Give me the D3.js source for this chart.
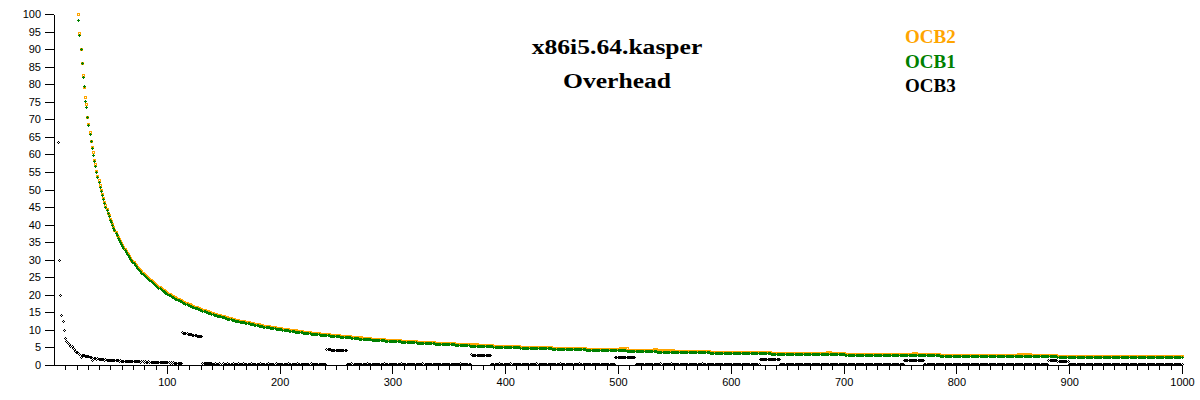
<!DOCTYPE html>
<html>
<head>
<meta charset="utf-8">
<script src="https://cdn.jsdelivr.net/npm/d3@7"></script>
<style>
  body { margin: 0; background: #fff; }
  .axis text { font-family: "Liberation Sans", Arial, sans-serif; font-size: 11px; fill: #000; }
  .axis path, .axis line { stroke: #000; shape-rendering: crispEdges; }
</style>
</head>
<body>
<svg id="chart" width="1200" height="400"></svg>
<script>
// x86i5.64.kasper overhead, one point per message length

var titleLines = ["x86i5.64.kasper", "Overhead"];
var seriesNames = ["OCB2", "OCB1", "OCB3"];
var seriesColors = ["#ffa500", "#008000", "#000000"];
var yTicks = d3.range(0, 101, 5);
var xTicks = d3.range(100, 1001, 100);
var xMinor = d3.range(10, 1001, 10);

// lengths: OCB1/OCB2 visible from 22, OCB3 from 4, all series 101..1000
var lenHead12 = d3.range(22, 101);
var lenHead3 = d3.range(4, 101);
var lenTail = d3.range(101, 1001);

var ocb1Head = [98.2,94.0,89.8,85.8,82.0,79.4,75.1,73.3,70.5,68.1,
  65.7,63.6,61.7,59.8,58.1,56.5,54.9,53.5,52.1,50.7,
  49.5,48.3,47.2,46.1,45.0,44.0,43.1,42.2,41.3,40.5,
  39.7,38.9,38.2,37.5,36.8,36.1,35.5,34.8,34.3,33.7,
  33.1,32.6,32.1,31.6,31.1,30.6,30.1,29.7,29.2,28.8,
  28.4,28.0,27.6,27.3,26.9,26.5,26.2,25.8,25.5,25.2,
  24.9,24.6,24.3,24.0,23.7,23.4,23.2,22.9,22.6,22.4,
  22.1,21.9,21.7,21.4,21.2,21.0,20.8,20.5,20.3];

var ocb1Tail = [
  20.1,19.9,19.7,19.5,19.3,19.2,19.0,18.8,18.6,18.5,
  18.3,18.1,18.0,17.8,17.6,17.5,17.3,17.2,17.0,16.9,
  16.8,16.6,16.5,16.3,16.2,16.1,16.0,15.8,15.7,15.6,
  15.5,15.3,15.2,15.1,15.0,14.9,14.8,14.7,14.6,14.5,
  14.4,14.2,14.1,14.1,13.9,13.9,13.8,13.7,13.6,13.5,
  13.4,13.3,13.2,13.1,13.0,13.0,12.9,12.8,12.7,12.6,
  12.5,12.5,12.4,12.3,12.2,12.2,12.1,12.0,12.0,11.9,
  11.8,11.7,11.7,11.6,11.5,11.5,11.4,11.3,11.3,11.2,
  11.2,11.1,11.0,11.0,10.9,10.8,10.8,10.7,10.7,10.6,
  10.6,10.5,10.5,10.4,10.3,10.3,10.2,10.2,10.1,10.1,
  10.0,10.0,9.9,9.9,9.8,9.8,9.7,9.7,9.6,9.6,
  9.6,9.5,9.5,9.4,9.4,9.3,9.3,9.2,9.2,9.2,
  9.1,9.1,9.0,9.0,9.0,8.9,8.9,8.8,8.8,8.8,
  8.7,8.7,8.6,8.6,8.6,8.5,8.5,8.5,8.4,8.4,
  8.4,8.3,8.3,8.3,8.2,8.2,8.2,8.1,8.1,8.1,
  8.0,8.0,8.0,7.9,7.9,7.9,7.8,7.8,7.8,7.7,
  7.7,7.7,7.7,7.6,7.6,7.6,7.5,7.5,7.5,7.5,
  7.4,7.4,7.4,7.3,7.3,7.3,7.3,7.2,7.2,7.2,
  7.2,7.1,7.1,7.1,7.1,7.0,7.0,7.0,7.0,6.9,
  6.9,6.9,6.9,6.8,6.8,6.8,6.8,6.7,6.7,6.7,
  // 301
  6.7,6.7,6.6,6.6,6.6,6.6,6.6,6.5,6.5,6.5,
  6.5,6.4,6.4,6.4,6.4,6.4,6.3,6.3,6.3,6.3,
  6.3,6.2,6.2,6.2,6.2,6.2,6.1,6.1,6.1,6.1,
  6.1,6.1,6.0,6.0,6.0,6.0,6.0,5.9,5.9,5.9,
  5.9,5.9,5.9,5.8,5.8,5.8,5.8,5.8,5.8,5.7,
  5.7,5.7,5.7,5.7,5.7,5.6,5.6,5.6,5.6,5.6,
  5.6,5.5,5.5,5.5,5.5,5.5,5.5,5.5,5.4,5.4,
  5.4,5.4,5.4,5.4,5.4,5.3,5.3,5.3,5.3,5.3,
  5.3,5.3,5.2,5.2,5.2,5.2,5.2,5.2,5.2,5.1,
  5.1,5.1,5.1,5.1,5.1,5.1,5.1,5.0,5.0,5.0,
  // 401
  5.0,5.0,5.0,5.0,5.0,4.9,4.9,4.9,4.9,4.9,
  4.9,4.9,4.9,4.8,4.8,4.8,4.8,4.8,4.8,4.8,
  4.8,4.7,4.7,4.7,4.7,4.7,4.7,4.7,4.7,4.7,
  4.7,4.6,4.6,4.6,4.6,4.6,4.6,4.6,4.6,4.6,
  4.6,4.5,4.5,4.5,4.5,4.5,4.5,4.5,4.5,4.5,
  4.5,4.4,4.4,4.4,4.4,4.4,4.4,4.4,4.4,4.4,
  4.4,4.3,4.3,4.3,4.3,4.3,4.3,4.3,4.3,4.3,
  4.3,4.2,4.2,4.2,4.2,4.2,4.2,4.2,4.2,4.2,
  4.2,4.2,4.2,4.1,4.1,4.1,4.1,4.1,4.1,4.1,
  4.1,4.1,4.1,4.1,4.1,4.0,4.0,4.0,4.0,4.0,
  // 501
  4.0,4.0,4.0,4.0,4.0,4.0,4.0,3.9,3.9,3.9,
  3.9,3.9,3.9,3.9,3.9,3.9,3.9,3.9,3.9,3.9,
  3.9,3.8,3.8,3.8,3.8,3.8,3.8,3.8,3.8,3.8,
  3.8,3.8,3.8,3.8,3.7,3.7,3.7,3.7,3.7,3.7,
  3.7,3.7,3.7,3.7,3.7,3.7,3.7,3.7,3.7,3.6,
  3.6,3.6,3.6,3.6,3.6,3.6,3.6,3.6,3.6,3.6,
  3.6,3.6,3.6,3.6,3.5,3.5,3.5,3.5,3.5,3.5,
  3.5,3.5,3.5,3.5,3.5,3.5,3.5,3.5,3.5,3.5,
  3.5,3.4,3.4,3.4,3.4,3.4,3.4,3.4,3.4,3.4,
  3.4,3.4,3.4,3.4,3.4,3.4,3.4,3.3,3.3,3.3,
  // 601
  3.3,3.3,3.3,3.3,3.3,3.3,3.3,3.3,3.3,3.3,
  3.3,3.3,3.3,3.3,3.3,3.3,3.3,3.2,3.2,3.2,
  3.2,3.2,3.2,3.2,3.2,3.2,3.2,3.2,3.2,3.2,
  3.2,3.2,3.2,3.2,3.2,3.1,3.1,3.1,3.1,3.1,
  3.1,3.1,3.1,3.1,3.1,3.1,3.1,3.1,3.1,3.1,
  3.1,3.1,3.1,3.1,3.1,3.1,3.1,3.0,3.0,3.0,
  3.0,3.0,3.0,3.0,3.0,3.0,3.0,3.0,3.0,3.0,
  3.0,3.0,3.0,3.0,3.0,3.0,3.0,3.0,3.0,2.9,
  2.9,2.9,2.9,2.9,2.9,2.9,2.9,2.9,2.9,2.9,
  2.9,2.9,2.9,2.9,2.9,2.9,2.9,2.9,2.9,2.9,
  // 701
  2.9,2.8,2.8,2.8,2.8,2.8,2.8,2.8,2.8,2.8,
  2.8,2.8,2.8,2.8,2.8,2.8,2.8,2.8,2.8,2.8,
  2.8,2.8,2.8,2.8,2.8,2.8,2.8,2.7,2.7,2.7,
  2.7,2.7,2.7,2.7,2.7,2.7,2.7,2.7,2.7,2.7,
  2.7,2.7,2.7,2.7,2.7,2.7,2.7,2.7,2.7,2.7,
  2.7,2.7,2.7,2.7,2.7,2.6,2.6,2.6,2.6,2.6,
  2.6,2.6,2.6,2.6,2.6,2.6,2.6,2.6,2.6,2.6,
  2.6,2.6,2.6,2.6,2.6,2.6,2.6,2.6,2.6,2.6,
  2.6,2.6,2.6,2.6,2.6,2.5,2.5,2.5,2.5,2.5,
  2.5,2.5,2.5,2.5,2.5,2.5,2.5,2.5,2.5,2.5,
  // 801
  2.5,2.5,2.5,2.5,2.5,2.5,2.5,2.5,2.5,2.5,
  2.5,2.5,2.5,2.5,2.5,2.5,2.5,2.4,2.4,2.4,
  2.4,2.4,2.4,2.4,2.4,2.4,2.4,2.4,2.4,2.4,
  2.4,2.4,2.4,2.4,2.4,2.4,2.4,2.4,2.4,2.4,
  2.4,2.4,2.4,2.4,2.4,2.4,2.4,2.4,2.4,2.4,
  2.4,2.3,2.3,2.3,2.3,2.3,2.3,2.3,2.3,2.3,
  2.3,2.3,2.3,2.3,2.3,2.3,2.3,2.3,2.3,2.3,
  2.3,2.3,2.3,2.3,2.3,2.3,2.3,2.3,2.3,2.3,
  2.3,2.3,2.3,2.3,2.3,2.3,2.3,2.3,2.3,2.2,
  2.2,2.2,2.2,2.2,2.2,2.2,2.2,2.2,2.2,2.2,
  // 901
  2.2,2.2,2.2,2.2,2.2,2.2,2.2,2.2,2.2,2.2,
  2.2,2.2,2.2,2.2,2.2,2.2,2.2,2.2,2.2,2.2,
  2.2,2.2,2.2,2.2,2.2,2.2,2.2,2.2,2.2,2.2,
  2.2,2.1,2.1,2.1,2.1,2.1,2.1,2.1,2.1,2.1,
  2.1,2.1,2.1,2.1,2.1,2.1,2.1,2.1,2.1,2.1,
  2.1,2.1,2.1,2.1,2.1,2.1,2.1,2.1,2.1,2.1,
  2.1,2.1,2.1,2.1,2.1,2.1,2.1,2.1,2.1,2.1,
  2.1,2.1,2.1,2.1,2.1,2.0,2.0,2.0,2.0,2.0,
  2.0,2.0,2.0,2.0,2.0,2.0,2.0,2.0,2.0,2.0,
  2.0,2.0,2.0,2.0,2.0,2.0,2.0,2.0,2.0,2.0];

var ocb2Head = [99.8,94.4,90.0,86.0,82.4,79.1,76.1,74.2,70.6,68.4,
  66.2,63.8,62.0,60.4,58.3,57.0,55.1,53.7,52.5,51.0,
  49.6,48.7,47.4,46.3,45.4,44.2,43.3,42.5,41.5,40.9,
  39.9,39.2,38.4,37.8,37.0,36.4,35.7,35.1,34.5,34.0,
  33.4,32.8,32.4,31.8,31.4,30.9,30.4,29.9,29.5,29.1,
  28.6,28.3,27.9,27.5,27.2,26.8,26.5,26.1,25.8,25.5,
  25.2,24.9,24.6,24.3,24.0,23.7,23.5,23.2,22.9,22.7,
  22.4,22.2,22.0,21.7,21.5,21.3,21.1,20.8,20.6];

var ocb2Tail = [
  20.4,20.2,20.0,19.8,19.6,19.5,19.3,19.1,18.9,18.8,
  18.6,18.4,18.3,18.1,17.9,17.8,17.6,17.5,17.3,17.2,
  17.1,16.9,16.8,16.6,16.5,16.4,16.3,16.1,16.0,15.9,
  15.8,15.6,15.5,15.4,15.3,15.2,15.1,15.0,14.9,14.8,
  14.7,14.5,14.4,14.4,14.2,14.2,14.1,14.0,13.9,13.8,
  13.7,13.6,13.5,13.4,13.3,13.3,13.2,13.1,13.0,12.9,
  12.8,12.8,12.7,12.6,12.5,12.5,12.4,12.3,12.3,12.2,
  12.1,12.0,12.0,11.9,11.8,11.8,11.7,11.6,11.6,11.5,
  11.5,11.4,11.3,11.3,11.2,11.1,11.1,11.0,11.0,10.9,
  10.9,10.8,10.8,10.7,10.6,10.6,10.5,10.5,10.4,10.4,
  10.3,10.3,10.2,10.2,10.1,10.1,10.0,10.0,9.9,9.9,
  9.9,9.8,9.8,9.7,9.7,9.6,9.6,9.5,9.5,9.5,
  9.4,9.4,9.3,9.3,9.3,9.2,9.2,9.1,9.1,9.1,
  9.0,9.0,8.9,8.9,8.9,8.8,8.8,8.8,8.7,8.7,
  8.7,8.6,8.6,8.6,8.5,8.5,8.5,8.4,8.4,8.4,
  8.3,8.3,8.3,8.2,8.2,8.2,8.1,8.1,8.1,8.0,
  8.0,8.0,8.0,7.9,7.9,7.9,7.8,7.8,7.8,7.8,
  7.7,7.7,7.7,7.6,7.6,7.6,7.6,7.5,7.5,7.5,
  7.5,7.4,7.4,7.4,7.4,7.3,7.3,7.3,7.3,7.2,
  7.2,7.2,7.2,7.1,7.1,7.1,7.1,7.0,7.0,7.0,
  // 301
  7.0,7.0,6.9,6.9,6.9,6.9,6.9,6.8,6.8,6.8,
  6.8,6.7,6.7,6.7,6.7,6.7,6.6,6.6,6.6,6.6,
  6.6,6.5,6.5,6.5,6.5,6.5,6.4,6.4,6.4,6.4,
  6.4,6.4,6.3,6.3,6.3,6.3,6.3,6.2,6.2,6.2,
  6.2,6.2,6.2,6.1,6.1,6.1,6.1,6.1,6.1,6.0,
  6.0,6.0,6.0,6.0,6.0,5.9,5.9,5.9,5.9,5.9,
  5.9,5.8,5.8,5.8,5.8,5.8,5.8,5.8,5.7,5.7,
  5.7,5.7,5.7,5.7,5.7,5.6,5.6,5.6,5.6,5.6,
  5.6,5.6,5.5,5.5,5.5,5.5,5.5,5.5,5.5,5.4,
  5.4,5.4,5.4,5.4,5.4,5.4,5.4,5.3,5.3,5.3,
  // 401
  5.3,5.3,5.3,5.3,5.3,5.2,5.2,5.2,5.2,5.2,
  5.2,5.2,5.2,5.1,5.1,5.1,5.1,5.1,5.1,5.1,
  5.1,5.0,5.0,5.0,5.0,5.0,5.0,5.0,5.0,5.0,
  5.0,4.9,4.9,4.9,4.9,4.9,4.9,4.9,4.9,4.9,
  4.9,4.8,4.8,4.8,4.8,4.8,4.8,4.8,4.8,4.8,
  4.8,4.7,4.7,4.7,4.7,4.7,4.7,4.7,4.7,4.7,
  4.7,4.6,4.6,4.6,4.6,4.6,4.6,4.6,4.6,4.6,
  4.6,4.5,4.5,4.5,4.5,4.5,4.5,4.5,4.5,4.5,
  4.5,4.5,4.5,4.4,4.4,4.4,4.4,4.4,4.4,4.4,
  4.4,4.4,4.4,4.4,4.4,4.3,4.3,4.3,4.3,4.3,
  // 501
  4.3,4.6,4.6,4.6,4.6,4.6,4.6,4.6,4.2,4.2,
  4.2,4.2,4.2,4.2,4.2,4.2,4.2,4.2,4.2,4.2,
  4.2,4.1,4.1,4.1,4.1,4.1,4.1,4.1,4.1,4.1,
  4.1,4.4,4.4,4.4,4.0,4.0,4.0,4.0,4.0,4.0,
  4.0,4.0,4.0,4.0,4.0,4.0,4.0,4.0,4.0,3.9,
  3.9,3.9,3.9,3.9,3.9,3.9,3.9,3.9,3.9,3.9,
  3.9,3.9,3.9,3.9,3.8,3.8,3.8,3.8,3.8,3.8,
  3.8,3.8,3.8,3.8,3.8,3.8,3.8,3.8,3.8,3.8,
  3.8,3.7,3.7,3.7,3.7,3.7,3.7,3.7,3.7,3.7,
  3.7,3.7,3.7,3.7,3.7,3.7,3.7,3.6,3.6,3.6,
  // 601
  3.6,3.6,3.6,3.6,3.6,3.6,3.6,3.6,3.6,3.6,
  3.6,3.6,3.6,3.6,3.6,3.6,3.6,3.5,3.5,3.5,
  3.5,3.5,3.5,3.5,3.5,3.5,3.5,3.5,3.5,3.5,
  3.5,3.5,3.5,3.5,3.5,3.4,3.4,3.4,3.4,3.4,
  3.4,3.4,3.4,3.4,3.4,3.4,3.4,3.4,3.4,3.4,
  3.4,3.4,3.4,3.4,3.4,3.4,3.4,3.3,3.3,3.3,
  3.3,3.3,3.3,3.3,3.3,3.3,3.3,3.3,3.3,3.3,
  3.3,3.3,3.3,3.3,3.3,3.3,3.3,3.3,3.3,3.2,
  3.2,3.2,3.2,3.2,3.2,3.5,3.5,3.5,3.2,3.2,
  3.2,3.2,3.2,3.2,3.2,3.2,3.2,3.2,3.2,3.2,
  // 701
  3.2,3.1,3.1,3.1,3.1,3.1,3.1,3.1,3.1,3.1,
  3.1,3.1,3.1,3.1,3.1,3.1,3.1,3.1,3.1,3.1,
  3.1,3.1,3.1,3.1,3.1,3.1,3.1,3.0,3.0,3.0,
  3.0,3.0,3.0,3.0,3.0,3.0,3.0,3.0,3.0,3.0,
  3.0,3.0,3.0,3.0,3.0,3.0,3.0,3.0,3.0,3.0,
  3.0,3.0,3.0,3.0,3.0,2.9,2.9,2.9,2.9,2.9,
  2.9,3.2,3.2,3.2,3.2,2.9,2.9,2.9,2.9,2.9,
  2.9,2.9,2.9,2.9,2.9,2.9,2.9,2.9,2.9,2.9,
  2.9,2.9,2.9,2.9,2.9,2.8,2.8,2.8,2.8,2.8,
  2.8,2.8,2.8,2.8,2.8,2.8,2.8,2.8,2.8,2.8,
  // 801
  2.8,2.8,2.8,2.8,2.8,2.8,2.8,2.8,2.8,2.8,
  2.8,2.8,2.8,2.8,2.8,2.8,2.8,2.7,2.7,2.7,
  2.7,2.7,2.7,2.7,2.7,2.7,2.7,2.7,2.7,2.7,
  2.7,2.7,2.7,2.7,2.7,2.7,2.7,2.7,2.7,2.7,
  2.7,2.7,2.7,2.7,2.7,2.7,2.7,2.7,2.7,2.7,
  2.7,2.6,2.6,2.6,2.9,2.9,2.9,2.9,2.9,2.9,
  2.9,2.9,2.9,2.9,2.9,2.9,2.6,2.6,2.6,2.6,
  2.6,2.6,2.6,2.6,2.6,2.6,2.6,2.6,2.6,2.6,
  2.6,2.6,2.6,2.6,2.6,2.6,2.6,2.6,2.6,2.5,
  2.5,2.5,2.5,2.5,2.5,2.5,2.5,2.5,2.5,2.5,
  // 901
  2.5,2.5,2.5,2.5,2.5,2.5,2.5,2.5,2.5,2.5,
  2.5,2.5,2.5,2.5,2.5,2.5,2.5,2.5,2.5,2.5,
  2.5,2.5,2.5,2.5,2.5,2.5,2.5,2.5,2.5,2.5,
  2.5,2.4,2.4,2.4,2.4,2.4,2.4,2.4,2.4,2.4,
  2.4,2.4,2.4,2.4,2.4,2.4,2.4,2.4,2.4,2.4,
  2.4,2.4,2.4,2.4,2.4,2.4,2.4,2.4,2.4,2.4,
  2.4,2.4,2.4,2.4,2.4,2.4,2.4,2.4,2.4,2.4,
  2.4,2.4,2.4,2.4,2.4,2.3,2.3,2.3,2.3,2.3,
  2.3,2.3,2.3,2.3,2.3,2.3,2.3,2.3,2.3,2.3,
  2.3,2.3,2.3,2.3,2.3,2.3,2.3,2.3,2.3,2.3];

var ocb3Head = [63.3,29.8,19.9,14.2,12.4,9.7,7.5,6.6,6.3,6.0,
  5.7,5.4,5.2,4.8,4.3,3.9,3.6,3.6,3.3,3.1,
  2.2,2.8,2.7,2.6,2.5,2.4,2.3,2.3,2.2,2.2,
  1.4,1.5,1.8,1.8,1.7,1.8,1.7,1.6,1.6,1.5,
  1.5,1.4,1.5,1.4,1.4,1.4,1.3,1.4,1.3,1.2,
  1.3,1.2,1.2,1.2,1.1,1.2,1.1,1.1,1.1,1.0,
  1.1,1.0,1.1,1.0,1.0,0.9,1.0,1.0,0.9,1.0,
  0.9,0.9,0.9,0.8,0.9,0.9,0.8,0.9,0.8,0.8,
  0.9,0.8,0.8,0.8,0.7,0.8,0.8,0.7,0.8,0.7,
  0.7,0.7,0.6,0.7,0.6,0.6,0.6];

var ocb3Tail = [
  0.6,0.6,0.5,0.6,0.5,0.6,0.5,0.5,0.5,0.5,
  0.5,0.5,0.5,9.2,9.1,9.0,8.9,8.9,8.8,8.7,
  8.6,8.6,8.5,8.4,8.4,8.3,8.2,8.2,8.1,8.0,
  8.0,0.4,0.4,0.3,0.4,0.3,0.3,0.4,0.3,0.3,
  0.2,0.2,0.4,0.2,0.2,0.2,0.4,0.2,0.2,0.5,
  0.2,0.2,0.2,0.4,0.2,0.2,0.2,0.2,0.4,0.2,
  0.2,0.2,0.2,0.4,0.2,0.2,0.2,0.5,0.2,0.2,
  0.2,0.2,0.2,0.2,0.4,0.2,0.2,0.2,0.2,0.2,
  0.2,0.2,0.4,0.2,0.2,0.2,0.2,0.2,0.2,0.4,
  0.2,0.2,0.2,0.2,0.2,0.2,0.4,0.2,0.2,0.2,
  0.2,0.2,0.2,0.2,0.2,0.2,0.2,0.4,0.2,0.2,
  0.2,0.2,0.2,0.2,0.2,0.4,0.2,0.2,0.2,0.2,
  0.2,0.2,0.2,0.2,0.2,0.2,0.2,0.4,0.2,0.2,
  0.2,0.2,0.2,0.2,0.2,0.2,0.2,0.2,0.2,0.2,
  0.2,4.3,4.3,4.3,4.3,4.2,4.2,4.2,4.2,4.2,
  4.2,4.1,4.1,4.1,4.1,4.1,4.1,4.1,4.0,0.2,
  0.2,0.2,0.2,0.4,0.2,0.2,0.2,0.2,0.2,0.2,
  0.2,0.2,0.2,0.2,0.2,0.2,0.2,0.4,0.2,0.2,
  0.2,0.2,0.2,0.2,0.2,0.2,0.2,0.2,0.2,0.2,
  0.2,0.2,0.4,0.2,0.2,0.2,0.2,0.2,0.2,0.2,
  // 301
  0.2,0.2,0.2,0.2,0.2,0.2,0.2,0.5,0.2,0.2,
  0.2,0.2,0.2,0.2,0.2,0.2,0.2,0.2,0.2,0.2,
  0.2,0.2,0.2,0.2,0.2,0.2,0.4,0.2,0.2,0.2,
  0.2,0.2,0.2,0.2,0.2,0.2,0.2,0.2,0.2,0.2,
  0.2,0.2,0.2,0.2,0.2,0.2,0.2,0.2,0.2,0.2,
  0.2,0.2,0.2,0.2,0.2,0.2,0.2,0.2,0.2,0.4,
  0.2,0.2,0.2,0.2,0.2,0.2,0.2,0.2,0.2,2.9,
  2.8,2.8,2.8,2.8,2.8,2.8,2.8,2.7,2.7,2.7,
  2.7,2.7,2.7,2.7,2.7,2.7,2.7,0.2,0.2,0.2,
  0.2,0.2,0.2,0.2,0.4,0.2,0.2,0.2,0.2,0.2,
  // 401
  0.2,0.2,0.2,0.2,0.4,0.2,0.2,0.2,0.2,0.2,
  0.2,0.2,0.2,0.2,0.2,0.2,0.2,0.2,0.2,0.2,
  0.2,0.2,0.2,0.2,0.2,0.2,0.2,0.5,0.2,0.2,
  0.2,0.2,0.2,0.2,0.2,0.2,0.2,0.2,0.2,0.2,
  0.2,0.2,0.2,0.2,0.2,0.2,0.2,0.2,0.4,0.2,
  0.2,0.2,0.2,0.2,0.2,0.2,0.2,0.2,0.2,0.2,
  0.2,0.2,0.2,0.2,0.2,0.4,0.2,0.2,0.2,0.2,
  0.2,0.2,0.2,0.2,0.2,0.2,0.2,0.2,0.2,0.2,
  0.2,0.2,0.2,0.2,0.2,0.2,0.2,0.2,0.2,0.2,
  0.2,0.2,0.2,0.2,0.2,0.2,0.2,2.1,2.1,2.1,
  // 501
  2.1,2.1,2.0,2.0,2.0,2.0,2.0,2.0,2.0,2.0,
  2.0,2.0,2.0,2.0,2.0,0.2,0.2,0.2,0.2,0.2,
  0.2,0.2,0.2,0.2,0.2,0.2,0.2,0.2,0.2,0.2,
  0.2,0.2,0.2,0.2,0.2,0.2,0.2,0.4,0.2,0.2,
  0.2,0.2,0.2,0.2,0.2,0.2,0.4,0.2,0.2,0.2,
  0.2,0.2,0.2,0.2,0.2,0.2,0.2,0.2,0.2,0.2,
  0.2,0.2,0.2,0.2,0.2,0.2,0.2,0.2,0.2,0.2,
  0.2,0.2,0.2,0.2,0.4,0.2,0.2,0.2,0.2,0.2,
  0.2,0.2,0.2,0.2,0.2,0.2,0.2,0.2,0.2,0.2,
  0.2,0.2,0.2,0.2,0.2,0.2,0.2,0.2,0.2,0.2,
  // 601
  0.2,0.2,0.2,0.2,0.2,0.2,0.2,0.2,0.2,0.2,
  0.2,0.2,0.2,0.2,0.2,0.2,0.2,0.2,0.2,0.2,
  0.2,0.2,0.2,0.2,0.2,1.7,1.6,1.6,1.6,1.6,
  1.6,1.6,1.6,1.6,1.6,1.6,1.5,1.5,1.5,1.5,
  1.5,1.5,1.5,0.2,0.2,0.2,0.2,0.2,0.2,0.2,
  0.2,0.2,0.2,0.2,0.2,0.2,0.2,0.2,0.2,0.2,
  0.2,0.2,0.2,0.2,0.2,0.2,0.2,0.2,0.2,0.2,
  0.2,0.2,0.2,0.2,0.2,0.2,0.2,0.2,0.2,0.2,
  0.2,0.2,0.2,0.2,0.2,0.2,0.2,0.2,0.2,0.2,
  0.2,0.2,0.2,0.2,0.2,0.2,0.2,0.2,0.2,0.2,
  // 701
  0.2,0.2,0.2,0.2,0.2,0.2,0.2,0.2,0.2,0.2,
  0.2,0.2,0.2,0.2,0.2,0.2,0.2,0.2,0.2,0.2,
  0.2,0.2,0.2,0.2,0.2,0.2,0.2,0.2,0.2,0.2,
  0.2,0.2,0.2,0.2,0.2,0.2,0.2,0.2,0.2,0.2,
  0.2,0.2,0.2,0.2,0.2,0.2,0.2,0.2,0.2,0.2,
  0.2,0.2,0.2,1.3,1.3,1.3,1.3,1.3,1.3,1.3,
  1.3,1.3,1.3,1.3,1.3,1.3,1.3,1.2,1.2,1.2,
  1.2,0.2,0.2,0.2,0.2,0.2,0.2,0.2,0.2,0.2,
  0.2,0.2,0.2,0.2,0.2,0.2,0.2,0.2,0.2,0.2,
  0.2,0.2,0.2,0.2,0.2,0.2,0.2,0.2,0.2,0.2,
  // 801
  0.2,0.2,0.2,0.2,0.2,0.2,0.2,0.2,0.2,0.2,
  0.2,0.2,0.2,0.2,0.2,0.2,0.2,0.2,0.2,0.2,
  0.2,0.2,0.2,0.2,0.2,0.2,0.2,0.2,0.2,0.2,
  0.2,0.2,0.2,0.2,0.2,0.2,0.2,0.2,0.2,0.2,
  0.2,0.2,0.2,0.2,0.2,0.2,0.2,0.2,0.2,0.2,
  0.2,0.2,0.2,0.2,0.2,0.2,0.2,0.2,0.2,0.2,
  0.2,0.2,0.2,0.2,0.2,0.2,0.2,0.2,0.2,0.2,
  0.2,0.2,0.2,0.2,0.2,0.2,0.2,0.2,0.2,0.2,
  0.2,1.2,1.2,1.2,1.2,1.2,1.2,1.2,1.2,1.1,
  1.1,1.1,1.1,1.1,1.1,1.1,1.1,1.1,1.1,0.2,
  // 901
  0.2,0.2,0.2,0.2,0.2,0.2,0.2,0.2,0.2,0.2,
  0.2,0.2,0.2,0.2,0.2,0.2,0.2,0.2,0.2,0.2,
  0.2,0.2,0.2,0.2,0.2,0.2,0.2,0.2,0.2,0.2,
  0.2,0.2,0.2,0.2,0.2,0.2,0.2,0.2,0.2,0.2,
  0.2,0.2,0.2,0.2,0.2,0.2,0.2,0.2,0.2,0.2,
  0.2,0.2,0.2,0.2,0.2,0.2,0.2,0.2,0.2,0.2,
  0.2,0.2,0.2,0.2,0.2,0.2,0.2,0.2,0.2,0.2,
  0.2,0.2,0.2,0.2,0.2,0.2,0.2,0.2,0.2,0.2,
  0.2,0.2,0.2,0.2,0.2,0.2,0.2,0.2,0.2,0.2,
  0.2,0.2,0.2,0.2,0.2,0.2,0.2,0.2,0.2,0.2];

function toPoints(lens, vals) {
  return lens.map(function(l, i) { return {x: l, y: vals[i]}; })
    .filter(function(d) { return d.y != null; });
}

var ocb1 = toPoints(lenHead12, ocb1Head).concat(toPoints(lenTail, ocb1Tail));
var ocb2 = toPoints(lenHead12, ocb2Head).concat(toPoints(lenTail, ocb2Tail));
var ocb3 = toPoints(lenHead3, ocb3Head).concat(toPoints(lenTail, ocb3Tail));

var width = 1200,
    height = 400;

var svg = d3.select("#chart");
svg.append("rect").attr("width", width).attr("height", height).attr("fill", "#fff");

var xScale = d3.scaleLinear().domain([0, 1000]).range([54, 1182]);
var yScale = d3.scaleLinear().domain([0, 100]).range([365, 14]);

// y axis
svg.append("g")
    .attr("class", "axis")
    .attr("transform", "translate(" + xScale(0) + ",0)")
    .call(d3.axisLeft(yScale).tickValues(yTicks).tickSize(9).tickSizeOuter(0).tickPadding(4));

// x axis, minor ticks then labelled ones
svg.append("g")
    .attr("class", "axis")
    .attr("transform", "translate(0," + yScale(0) + ")")
    .call(d3.axisBottom(xScale).tickValues(xMinor).tickSize(5).tickSizeOuter(0).tickFormat(""));

svg.append("g")
    .attr("class", "axis")
    .attr("transform", "translate(0," + yScale(0) + ")")
    .call(d3.axisBottom(xScale).tickValues(xTicks).tickSize(9).tickSizeOuter(0)
      .tickPadding(4).tickFormat(d3.format("d")));

function px(d) { return Math.floor(xScale(d.x)); }
function py(d) { return Math.floor(yScale(d.y)); }

// OCB2: small hollow squares
svg.append("g")
    .selectAll("rect")
    .data(ocb2)
  .enter()
    .append("rect")
    .attr("x", function(d) { return px(d) - 0.5; })
    .attr("y", function(d) { return py(d) - 0.5; })
    .attr("width", 2)
    .attr("height", 2)
    .attr("fill", "none")
    .attr("stroke", seriesColors[0])
    .attr("shape-rendering", "crispEdges");

// OCB1: plus signs
svg.append("g")
    .selectAll("path")
    .data(ocb1)
  .enter()
    .append("path")
    .attr("d", function(d) {
      var i = px(d), j = py(d);
      return "M" + (i - 1) + "," + (j + 0.5) + "h3M" + (i + 0.5) + "," + (j - 1) + "v3";
    })
    .attr("stroke", seriesColors[1])
    .attr("fill", "none")
    .attr("shape-rendering", "crispEdges");

// OCB3: tiny hollow diamonds
svg.append("g")
    .selectAll("path")
    .data(ocb3)
  .enter()
    .append("path")
    .attr("d", function(d) {
      var i = px(d), j = py(d);
      return "M" + i + "," + (j - 1) + "h1v1h-1z" +
             "M" + (i - 1) + "," + j + "h1v1h-1z" +
             "M" + (i + 1) + "," + j + "h1v1h-1z" +
             "M" + i + "," + (j + 1) + "h1v1h-1z";
    })
    .attr("fill", seriesColors[2])
    .attr("shape-rendering", "crispEdges");

// title
svg.selectAll("text.title")
    .data(titleLines)
  .enter()
    .append("text")
    .attr("class", "title")
    .attr("transform", function(d, i) { return "translate(617," + (54 + i * 34) + ") scale(1.28,1)"; })
    .attr("text-anchor", "middle")
    .style("font-family", "'Liberation Serif', 'Times New Roman', serif")
    .style("font-weight", "bold")
    .style("font-size", "20px")
    .text(function(d) { return d; });

// legend
svg.selectAll("text.legend")
    .data(seriesNames)
  .enter()
    .append("text")
    .attr("class", "legend")
    .attr("x", 905)
    .attr("y", function(d, i) { return [43, 68, 92][i]; })
    .attr("fill", function(d, i) { return seriesColors[i]; })
    .style("font-family", "'Liberation Serif', 'Times New Roman', serif")
    .style("font-weight", "bold")
    .style("font-size", "19px")
    .text(function(d) { return d; });
</script>
</body>
</html>
